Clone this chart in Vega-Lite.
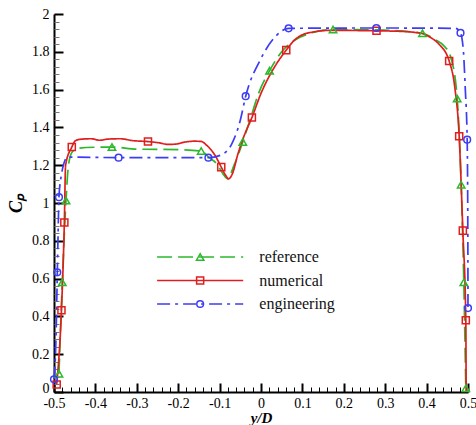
{
  "$schema": "https://vega.github.io/schema/vega-lite/v6.json",
  "width": 414,
  "height": 378,
  "autosize": {"type": "none"},
  "padding": {"left": 54, "top": 14, "right": 8, "bottom": 33},
  "config": {"view": {"stroke": null}, "font": "Liberation Serif"},
  "datasets": {
    "curves": [
      {"series": "reference", "x": -0.488, "cp": 0.097},
      {"series": "reference", "x": -0.48, "cp": 0.58},
      {"series": "reference", "x": -0.471, "cp": 1.013},
      {"series": "reference", "x": -0.465, "cp": 1.2},
      {"series": "reference", "x": -0.456, "cp": 1.27},
      {"series": "reference", "x": -0.44, "cp": 1.29},
      {"series": "reference", "x": -0.4, "cp": 1.295},
      {"series": "reference", "x": -0.36, "cp": 1.296},
      {"series": "reference", "x": -0.3, "cp": 1.285},
      {"series": "reference", "x": -0.2, "cp": 1.282},
      {"series": "reference", "x": -0.1445, "cp": 1.275},
      {"series": "reference", "x": -0.125, "cp": 1.24},
      {"series": "reference", "x": -0.107, "cp": 1.208},
      {"series": "reference", "x": -0.092, "cp": 1.155},
      {"series": "reference", "x": -0.081, "cp": 1.128},
      {"series": "reference", "x": -0.065, "cp": 1.2},
      {"series": "reference", "x": -0.044, "cp": 1.323},
      {"series": "reference", "x": -0.025, "cp": 1.45},
      {"series": "reference", "x": -0.006, "cp": 1.579},
      {"series": "reference", "x": 0.0207, "cp": 1.7},
      {"series": "reference", "x": 0.05, "cp": 1.8},
      {"series": "reference", "x": 0.08, "cp": 1.86},
      {"series": "reference", "x": 0.119, "cp": 1.898},
      {"series": "reference", "x": 0.174, "cp": 1.918},
      {"series": "reference", "x": 0.28, "cp": 1.916},
      {"series": "reference", "x": 0.39, "cp": 1.898},
      {"series": "reference", "x": 0.42, "cp": 1.865},
      {"series": "reference", "x": 0.444, "cp": 1.827},
      {"series": "reference", "x": 0.458, "cp": 1.774},
      {"series": "reference", "x": 0.4739, "cp": 1.553},
      {"series": "reference", "x": 0.4835, "cp": 1.097},
      {"series": "reference", "x": 0.4899, "cp": 0.58},
      {"series": "reference", "x": 0.4947, "cp": 0.02},
      {"series": "numerical", "x": -0.4935, "cp": 0.04},
      {"series": "numerical", "x": -0.482, "cp": 0.433},
      {"series": "numerical", "x": -0.475, "cp": 0.897},
      {"series": "numerical", "x": -0.472, "cp": 1.2},
      {"series": "numerical", "x": -0.457, "cp": 1.296},
      {"series": "numerical", "x": -0.448, "cp": 1.33},
      {"series": "numerical", "x": -0.437, "cp": 1.337},
      {"series": "numerical", "x": -0.41, "cp": 1.34},
      {"series": "numerical", "x": -0.39, "cp": 1.332},
      {"series": "numerical", "x": -0.37, "cp": 1.338},
      {"series": "numerical", "x": -0.34, "cp": 1.34},
      {"series": "numerical", "x": -0.31, "cp": 1.33},
      {"series": "numerical", "x": -0.273, "cp": 1.325},
      {"series": "numerical", "x": -0.245, "cp": 1.318},
      {"series": "numerical", "x": -0.225, "cp": 1.31},
      {"series": "numerical", "x": -0.205, "cp": 1.312},
      {"series": "numerical", "x": -0.185, "cp": 1.322},
      {"series": "numerical", "x": -0.16, "cp": 1.327},
      {"series": "numerical", "x": -0.145, "cp": 1.326},
      {"series": "numerical", "x": -0.131, "cp": 1.305},
      {"series": "numerical", "x": -0.111, "cp": 1.252},
      {"series": "numerical", "x": -0.096, "cp": 1.19},
      {"series": "numerical", "x": -0.085, "cp": 1.145},
      {"series": "numerical", "x": -0.078, "cp": 1.128},
      {"series": "numerical", "x": -0.07, "cp": 1.15},
      {"series": "numerical", "x": -0.055, "cp": 1.265},
      {"series": "numerical", "x": -0.04, "cp": 1.36},
      {"series": "numerical", "x": -0.022, "cp": 1.452},
      {"series": "numerical", "x": 0.0, "cp": 1.58},
      {"series": "numerical", "x": 0.03, "cp": 1.71},
      {"series": "numerical", "x": 0.061, "cp": 1.809},
      {"series": "numerical", "x": 0.08, "cp": 1.86},
      {"series": "numerical", "x": 0.1, "cp": 1.89},
      {"series": "numerical", "x": 0.127, "cp": 1.905},
      {"series": "numerical", "x": 0.16, "cp": 1.913},
      {"series": "numerical", "x": 0.2, "cp": 1.913},
      {"series": "numerical", "x": 0.279, "cp": 1.911},
      {"series": "numerical", "x": 0.34, "cp": 1.908},
      {"series": "numerical", "x": 0.37, "cp": 1.903},
      {"series": "numerical", "x": 0.392, "cp": 1.895},
      {"series": "numerical", "x": 0.41, "cp": 1.875},
      {"series": "numerical", "x": 0.43, "cp": 1.84},
      {"series": "numerical", "x": 0.4545, "cp": 1.751},
      {"series": "numerical", "x": 0.468, "cp": 1.614},
      {"series": "numerical", "x": 0.4787, "cp": 1.353},
      {"series": "numerical", "x": 0.4875, "cp": 0.854},
      {"series": "numerical", "x": 0.4947, "cp": 0.38},
      {"series": "numerical", "x": 0.4955, "cp": 0.0},
      {"series": "engineering", "x": -0.5, "cp": 0.067},
      {"series": "engineering", "x": -0.495, "cp": 0.3},
      {"series": "engineering", "x": -0.492, "cp": 0.633},
      {"series": "engineering", "x": -0.49, "cp": 0.85},
      {"series": "engineering", "x": -0.488, "cp": 1.031},
      {"series": "engineering", "x": -0.482, "cp": 1.15},
      {"series": "engineering", "x": -0.476, "cp": 1.21},
      {"series": "engineering", "x": -0.468, "cp": 1.243},
      {"series": "engineering", "x": -0.344, "cp": 1.24},
      {"series": "engineering", "x": -0.127, "cp": 1.24},
      {"series": "engineering", "x": -0.0985, "cp": 1.252},
      {"series": "engineering", "x": -0.0703, "cp": 1.314},
      {"series": "engineering", "x": -0.05, "cp": 1.438},
      {"series": "engineering", "x": -0.037, "cp": 1.565},
      {"series": "engineering", "x": -0.002, "cp": 1.756},
      {"series": "engineering", "x": 0.0345, "cp": 1.88},
      {"series": "engineering", "x": 0.0667, "cp": 1.924},
      {"series": "engineering", "x": 0.2787, "cp": 1.926},
      {"series": "engineering", "x": 0.47, "cp": 1.924},
      {"series": "engineering", "x": 0.4819, "cp": 1.9},
      {"series": "engineering", "x": 0.489, "cp": 1.8},
      {"series": "engineering", "x": 0.4935, "cp": 1.6},
      {"series": "engineering", "x": 0.498, "cp": 1.335},
      {"series": "engineering", "x": 0.4995, "cp": 0.9},
      {"series": "engineering", "x": 0.5, "cp": 0.444}
    ],
    "markers": [
      {"series": "reference", "x": -0.488, "cp": 0.097},
      {"series": "reference", "x": -0.48, "cp": 0.58},
      {"series": "reference", "x": -0.471, "cp": 1.013},
      {"series": "reference", "x": -0.36, "cp": 1.296},
      {"series": "reference", "x": -0.1445, "cp": 1.275},
      {"series": "reference", "x": -0.044, "cp": 1.323},
      {"series": "reference", "x": 0.0207, "cp": 1.7},
      {"series": "reference", "x": 0.174, "cp": 1.918},
      {"series": "reference", "x": 0.39, "cp": 1.898},
      {"series": "reference", "x": 0.4739, "cp": 1.553},
      {"series": "reference", "x": 0.4835, "cp": 1.097},
      {"series": "reference", "x": 0.4899, "cp": 0.58},
      {"series": "reference", "x": 0.4947, "cp": 0.02},
      {"series": "numerical", "x": -0.4935, "cp": 0.04},
      {"series": "numerical", "x": -0.482, "cp": 0.433},
      {"series": "numerical", "x": -0.475, "cp": 0.897},
      {"series": "numerical", "x": -0.457, "cp": 1.296},
      {"series": "numerical", "x": -0.273, "cp": 1.325},
      {"series": "numerical", "x": -0.096, "cp": 1.19},
      {"series": "numerical", "x": -0.022, "cp": 1.452},
      {"series": "numerical", "x": 0.061, "cp": 1.809},
      {"series": "numerical", "x": 0.279, "cp": 1.911},
      {"series": "numerical", "x": 0.4545, "cp": 1.751},
      {"series": "numerical", "x": 0.4787, "cp": 1.353},
      {"series": "numerical", "x": 0.4875, "cp": 0.854},
      {"series": "numerical", "x": 0.4947, "cp": 0.38},
      {"series": "engineering", "x": -0.5, "cp": 0.067},
      {"series": "engineering", "x": -0.492, "cp": 0.633},
      {"series": "engineering", "x": -0.488, "cp": 1.031},
      {"series": "engineering", "x": -0.344, "cp": 1.24},
      {"series": "engineering", "x": -0.127, "cp": 1.24},
      {"series": "engineering", "x": -0.037, "cp": 1.565},
      {"series": "engineering", "x": 0.0667, "cp": 1.924},
      {"series": "engineering", "x": 0.2787, "cp": 1.926},
      {"series": "engineering", "x": 0.4819, "cp": 1.9},
      {"series": "engineering", "x": 0.498, "cp": 1.335},
      {"series": "engineering", "x": 0.5, "cp": 0.444}
    ],
    "legend": [
      {"series": "reference"},
      {"series": "numerical"},
      {"series": "engineering"}
    ]
  },
  "layer": [
    {
      "layer": [
        {
          "data": {"name": "curves"},
          "mark": {"type": "line", "strokeWidth": 1.7, "interpolate": "monotone"},
          "encoding": {
            "x": {
              "field": "x", "type": "quantitative",
              "scale": {"domain": [-0.5, 0.5], "nice": false, "zero": false},
              "axis": {
                "orient": "bottom",
                "values": [-0.5, -0.4, -0.3, -0.2, -0.1, 0, 0.1, 0.2, 0.3, 0.4, 0.5],
                "format": "~g",
                "labelExpr": "replace(datum.label, '\u2212', '-')",
                "labelFlush": false,
                "labelOverlap": false,
                "grid": false,
                "domainColor": "black", "domainWidth": 2,
                "tickColor": "black", "tickWidth": 2, "tickSize": -9,
                "labelFont": "Liberation Serif", "labelFontSize": 14, "labelColor": "black",
                "labelPadding": 13,
                "title": "y/D",
                "titleFont": "Liberation Serif", "titleFontSize": 15, "titleFontStyle": "italic", "titleFontWeight": "bold",
                "titleColor": "black", "titlePadding": 0
              }
            },
            "y": {
              "field": "cp", "type": "quantitative",
              "scale": {"domain": [0, 2], "nice": false},
              "axis": {
                "orient": "left",
                "values": [0, 0.2, 0.4, 0.6, 0.8, 1, 1.2, 1.4, 1.6, 1.8, 2],
                "format": "~g",
                "labelFlush": false,
                "labelOverlap": false,
                "labelOffset": {"condition": {"test": "datum.value === 0", "value": -4}, "value": 0},
                "grid": false,
                "domainColor": "black", "domainWidth": 2,
                "tickColor": "black", "tickWidth": 2, "tickSize": -9,
                "labelFont": "Liberation Serif", "labelFontSize": 14, "labelColor": "black",
                "labelPadding": 14,
                "title": "Cₚ",
                "titleFont": "Liberation Serif", "titleFontSize": 18, "titleFontStyle": "italic", "titleFontWeight": "bold",
                "titleColor": "black", "titlePadding": 6
              }
            },
            "color": {
              "field": "series", "type": "nominal",
              "scale": {"domain": ["reference", "numerical", "engineering"], "range": ["#2cb82c", "#e01e1e", "#3c3cf5"]},
              "legend": null
            },
            "strokeDash": {
              "field": "series", "type": "nominal",
              "scale": {"domain": ["reference", "numerical", "engineering"], "range": [[15, 6], [1, 0], [13, 5, 3, 5]]},
              "legend": null
            }
          }
        },
        {
          "data": {"name": "markers"},
          "mark": {"type": "point", "filled": false, "strokeWidth": 1.5, "opacity": 1},
          "encoding": {
            "x": {
              "field": "x", "type": "quantitative",
              "axis": {
                "orient": "bottom",
                "values": [-0.48, -0.46, -0.44, -0.42, -0.38, -0.36, -0.34, -0.32, -0.28, -0.26, -0.24, -0.22, -0.18, -0.16, -0.14, -0.12, -0.08, -0.06, -0.04, -0.02, 0.02, 0.04, 0.06, 0.08, 0.12, 0.14, 0.16, 0.18, 0.22, 0.24, 0.26, 0.28, 0.32, 0.34, 0.36, 0.38, 0.42, 0.44, 0.46, 0.48],
                "labels": false, "domain": false, "grid": false, "title": null,
                "tickColor": "black", "tickWidth": 1, "tickSize": -5
              }
            },
            "y": {
              "field": "cp", "type": "quantitative",
              "axis": {
                "orient": "left",
                "values": [0.04, 0.08, 0.12, 0.16, 0.24, 0.28, 0.32, 0.36, 0.44, 0.48, 0.52, 0.56, 0.64, 0.68, 0.72, 0.76, 0.84, 0.88, 0.92, 0.96, 1.04, 1.08, 1.12, 1.16, 1.24, 1.28, 1.32, 1.36, 1.44, 1.48, 1.52, 1.56, 1.64, 1.68, 1.72, 1.76, 1.84, 1.88, 1.92, 1.96],
                "labels": false, "domain": false, "grid": false, "title": null,
                "tickColor": "#777777", "tickWidth": 1, "tickSize": -5
              }
            },
            "color": {"field": "series", "type": "nominal", "legend": null},
            "shape": {
              "field": "series", "type": "nominal",
              "scale": {"domain": ["reference", "numerical", "engineering"], "range": ["triangle-up", "square", "circle"]},
              "legend": null
            },
            "size": {
              "field": "series", "type": "nominal",
              "scale": {"domain": ["reference", "numerical", "engineering"], "range": [55, 45, 75]},
              "legend": null
            }
          }
        }
      ],
      "resolve": {"axis": {"x": "independent", "y": "independent"}}
    },
    {
      "data": {"name": "legend"},
      "encoding": {
        "y": {
          "field": "series", "type": "nominal",
          "scale": {"type": "point", "domain": ["reference", "numerical", "engineering"], "range": [243, 290], "padding": 0},
          "axis": null
        }
      },
      "layer": [
        {
          "mark": {"type": "rule", "strokeWidth": 1.7},
          "encoding": {
            "x": {"datum": -0.251, "type": "quantitative", "axis": null},
            "x2": {"datum": -0.043},
            "color": {"field": "series", "type": "nominal", "legend": null},
            "strokeDash": {"field": "series", "type": "nominal", "legend": null}
          }
        },
        {
          "mark": {"type": "point", "filled": false, "strokeWidth": 1.5, "opacity": 1},
          "encoding": {
            "x": {"datum": -0.147, "type": "quantitative", "axis": null},
            "color": {"field": "series", "type": "nominal", "legend": null},
            "shape": {"field": "series", "type": "nominal", "legend": null},
            "size": {"field": "series", "type": "nominal", "legend": null}
          }
        },
        {
          "mark": {"type": "text", "align": "left", "baseline": "middle", "font": "Liberation Serif", "fontSize": 16, "color": "#111111"},
          "encoding": {
            "x": {"datum": -0.004, "type": "quantitative", "axis": null},
            "text": {"field": "series"}
          }
        }
      ]
    }
  ],
  "resolve": {"scale": {"y": "independent"}}
}
